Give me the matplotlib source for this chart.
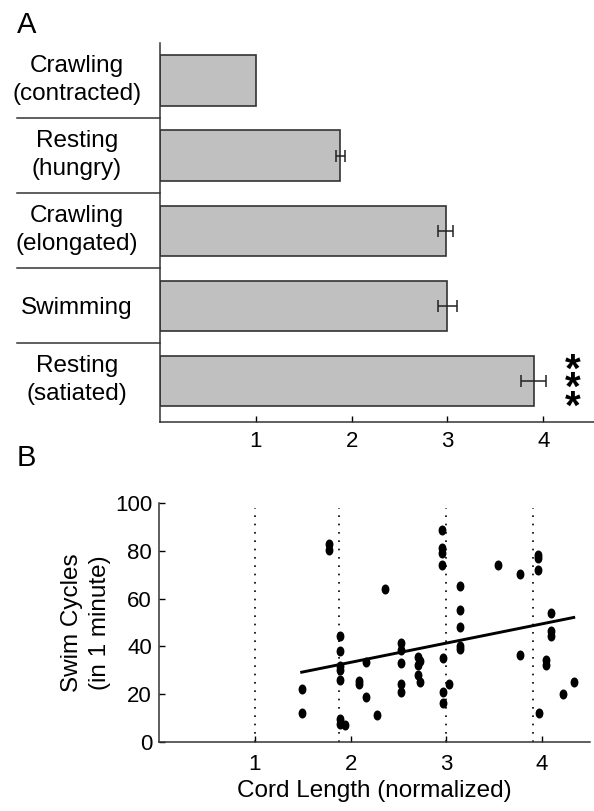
import matplotlib
matplotlib.use('Agg')
import matplotlib.pyplot as plt
from matplotlib.markers import MarkerStyle
from matplotlib.transforms import Affine2D, ScaledTranslation, blended_transform_factory

plt.rcParams['font.family'] = ['Liberation Sans', 'DejaVu Sans']

# Panel A: normalized cord length per behavioural state
states = ['Crawling\n(contracted)', 'Resting\n(hungry)', 'Crawling\n(elongated)',
          'Swimming', 'Resting\n(satiated)']
cord_length = [1.0, 1.88, 2.98, 3.0, 3.9]
cord_err = [0.0, 0.047, 0.08, 0.1, 0.133]
a_ticks = [1, 2, 3, 4]

# Panel B: swim cycles vs cord length
swim_x = [1.49, 1.49, 1.77, 1.77, 1.888, 1.888, 1.888, 1.888, 1.888, 1.888, 1.888,
          1.937, 2.088, 2.088, 2.157, 2.157, 2.278, 2.358, 2.522, 2.522, 2.522,
          2.522, 2.522, 2.70, 2.70, 2.70, 2.72, 2.73, 2.95, 2.95, 2.95, 2.95,
          2.96, 2.96, 2.96, 3.03, 3.142, 3.142, 3.142, 3.142, 3.142, 3.543,
          3.773, 3.773, 3.954, 3.954, 3.954, 3.97, 4.04, 4.04, 4.097, 4.097,
          4.097, 4.22, 4.33]
swim_y = [22.2, 12.0, 83.0, 80.2, 44.2, 38.2, 31.6, 30.2, 26.0, 9.5, 7.5,
          7.1, 25.6, 24.2, 33.3, 19.0, 11.2, 64.2, 41.4, 38.6, 33.0,
          24.3, 21.1, 35.4, 32.3, 28.2, 33.7, 25.2, 88.9, 81.2, 79.1, 74.1,
          35.1, 21.1, 16.2, 24.2, 65.1, 55.2, 48.1, 40.0, 38.9, 74.1,
          70.2, 36.2, 78.3, 77.0, 72.1, 12.2, 34.4, 32.3, 54.1, 46.3,
          44.4, 20.1, 25.2]
fit_x = [1.49, 4.33]
fit_y = [29.2, 52.1]
ref_lengths = [1.0, 1.88, 3.0, 3.9]
b_xticks = [1, 2, 3, 4]
b_yticks = [0, 20, 40, 60, 80, 100]

fig = plt.figure(figsize=(5.94, 8.11), dpi=100)

# ---- panel A ----
axA = fig.add_axes([0.2694, 0.4797, 0.7306, 0.4673])
ypos = list(range(len(states)))
axA.barh(ypos, cord_length, height=0.67, color='#c0c0c0', edgecolor='#333333', lw=1.2)
err_idx = [i for i in ypos if cord_err[i] > 0]
axA.errorbar([cord_length[i] for i in err_idx], err_idx,
             xerr=[cord_err[i] for i in err_idx], fmt='none',
             ecolor='#222222', elinewidth=1.1, capsize=4.5, capthick=1.1)
axA.set_xlim(0, 4.53)
axA.set_ylim(4.547, -0.5)
axA.set_xticks(a_ticks)
axA.set_yticks(ypos)
axA.set_yticklabels(states, ha='center', fontsize=17.5, linespacing=1.35)
axA.tick_params(axis='y', length=0, pad=60)
axA.tick_params(axis='x', direction='in', length=4.5, width=1, labelsize=16, pad=6.5)
# two-line labels sit a little above the bar centre in the original
lift = ScaledTranslation(0, 6 / 100, fig.dpi_scale_trans)
for lab in axA.get_yticklabels():
    if '\n' in lab.get_text():
        lab.set_transform(lab.get_transform() + lift)
for s in ['top', 'right']:
    axA.spines[s].set_visible(False)
for s in ['left', 'bottom']:
    axA.spines[s].set_linewidth(1.1)
    axA.spines[s].set_color('#333333')

# separators between category labels
trA = blended_transform_factory(axA.transAxes, axA.transData)
for yb in [0.5, 1.5, 2.5, 3.5]:
    axA.plot([-0.33, 0.0], [yb, yb], color='#333333', lw=1.1,
             transform=trA, clip_on=False)

# significance stars
axA.text(4.31, 4.11, '*\n*\n*', ha='center', va='center', fontsize=29,
         fontweight='bold', linespacing=0.35, clip_on=False)

fig.text(17 / 594, 1 - 33 / 811, 'A', fontsize=21, va='baseline')

# ---- panel B ----
axB = fig.add_axes([0.2677, 0.0851, 0.7256, 0.2947])
axB.vlines(ref_lengths, 0, 98, colors='black', linestyles=(0, (1, 4)), lw=1.2)
dot = MarkerStyle('o', transform=Affine2D().scale(0.75, 1.0))
axB.plot(swim_x, swim_y, ls='none', marker=dot, ms=6.2, color='black')
axB.plot(fit_x, fit_y, color='black', lw=2.1)
axB.set_xlim(0, 4.5)
axB.set_ylim(0, 100)
axB.set_xticks(b_xticks)
axB.set_yticks(b_yticks)
axB.tick_params(direction='in', length=4.5, width=1, labelsize=16)
axB.tick_params(axis='x', pad=9)
axB.tick_params(axis='y', pad=5)
for s in ['top', 'right']:
    axB.spines[s].set_visible(False)
for s in ['left', 'bottom']:
    axB.spines[s].set_linewidth(1.1)
    axB.spines[s].set_color('#333333')
axB.set_xlabel('Cord Length (normalized)', fontsize=17.5, labelpad=3)
axB.set_ylabel('Swim Cycles\n(in 1 minute)', fontsize=17.5, labelpad=3,
               linespacing=1.35)

fig.text(17 / 594, 1 - 466 / 811, 'B', fontsize=21, va='baseline')

fig.savefig('out.png', dpi=100)
